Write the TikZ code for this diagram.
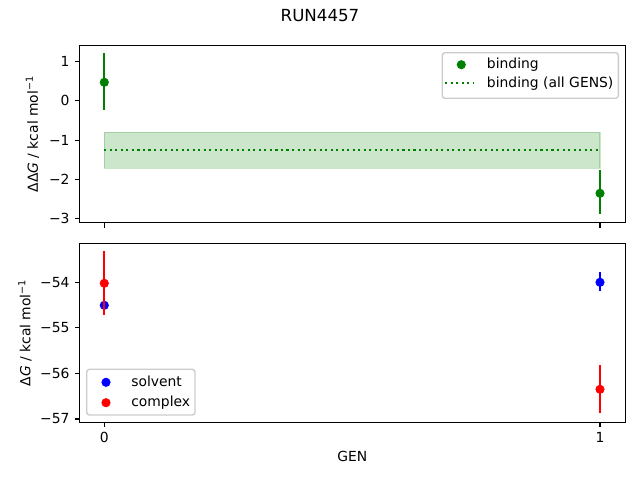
\documentclass[tikz,border=0pt]{standalone}
\usepackage{fontspec}
\setmainfont{DejaVu Sans}
\definecolor{mgreen}{RGB}{0,128,0}
\definecolor{mblue}{RGB}{0,0,255}
\definecolor{mred}{RGB}{255,0,0}
\definecolor{legedge}{RGB}{204,204,204}
\begin{document}
\begin{tikzpicture}[x=0.72pt,y=-0.72pt,
  font=\fontsize{10}{12}\selectfont,
  frame/.style={line width=0.8pt,draw=black},
  tickmark/.style={line width=0.8pt,draw=black},
  ylab/.style={anchor=east,inner sep=0pt},
  xlab/.style={anchor=north,inner sep=0pt},
  bar/.style={line width=1.5pt},
  dot/.style={circle,inner sep=0pt,minimum size=6.6pt,draw=none},
  legbox/.style={draw=legedge,line width=1pt,fill=white,fill opacity=0.8,rounded corners=2pt},
  legtext/.style={anchor=base west,inner sep=0pt},
]
\useasboundingbox (0,0) rectangle (640,480);

% ---------- title ----------
\node[inner sep=0pt,font=\fontsize{12}{14}\selectfont] (title) at (320,16) {RUN4457};

% ---------- top axes ----------
% band
\fill[mgreen,fill opacity=0.2] (104.3,132.3) rectangle (600,168.3);
\draw[mgreen,draw opacity=0.2,line width=1pt] (104.3,132.3) rectangle (600,168.3);
% dotted mean line
\coordinate (mA) at (104.3,149.7);
\coordinate (mB) at (600,149.7);
\draw[mgreen,line width=1.5pt,dash pattern=on 1.5pt off 2.475pt] (mA) -- (mB);
% error bars + points
\coordinate (g0t) at (104.3,53.3); \coordinate (g0b) at (104.3,110.3);
\draw[mgreen,bar] (g0t) -- (g0b);
\node[dot,fill=mgreen] (g0) at (104.3,82.3) {};
\coordinate (g1t) at (600,170); \coordinate (g1b) at (600,214.3);
\draw[mgreen,bar] (g1t) -- (g1b);
\node[dot,fill=mgreen] (g1) at (600,193.3) {};

% frame
\draw[frame] (79.5,45.3) rectangle (625.3,222.7);
% y ticks
\foreach \v/\y in {1/61.4,0/100.75,−1/140.1,−2/179.4,−3/218.7}{
  \draw[tickmark] (79.5,\y) -- ++(-4.86,0);
  \node[ylab] at (69.8,\y) {\v};
}
% x ticks
\foreach \x in {104.3,600}{
  \draw[tickmark] (\x,222.7) -- ++(0,4.86);
}
% y label
\node[rotate=90,inner sep=0pt] (ylabtop) at (32.5,134) {ΔΔ\textit{G} / kcal mol\textsuperscript{−1}};

% legend top
\draw[legbox] (442.3,52.7) rectangle (618.3,98.3);
\node[dot,fill=mgreen] (lg1) at (461.3,64.7) {};
\node[legtext] (lt1) at (486.7,68.6) {binding};
\coordinate (ld1) at (445,83.3); \coordinate (ld2) at (474.3,83.3);
\draw[mgreen,line width=1.5pt,dash pattern=on 1.5pt off 2.475pt] (ld1) -- (ld2);
\node[legtext] (lt2) at (486.7,87.2) {binding (all GENS)};

% ---------- bottom axes ----------
% solvent (blue)
\coordinate (b0t) at (104.3,303.5); \coordinate (b0b) at (104.3,307.1);
\draw[mblue,bar] (b0t) -- (b0b);
\node[dot,fill=mblue] (b0) at (104.3,305.3) {};
\coordinate (b1t) at (600,272.3); \coordinate (b1b) at (600,290.7);
\draw[mblue,bar] (b1t) -- (b1b);
\node[dot,fill=mblue] (b1) at (600,282.3) {};
% complex (red)
\coordinate (r0t) at (104.3,251); \coordinate (r0b) at (104.3,314.5);
\draw[mred,bar] (r0t) -- (r0b);
\node[dot,fill=mred] (r0) at (104.3,283.3) {};
\coordinate (r1t) at (600,365); \coordinate (r1b) at (600,413.3);
\draw[mred,bar] (r1t) -- (r1b);
\node[dot,fill=mred] (r1) at (600,389.3) {};

% frame
\draw[frame] (79.5,243.3) rectangle (625.3,422.3);
% y ticks
\foreach \v/\y in {−54/282.3,−55/327.8,−56/373.4,−57/419}{
  \draw[tickmark] (79.5,\y) -- ++(-4.86,0);
  \node[ylab] at (69.8,\y) {\v};
}
% x ticks
\foreach \x/\l in {104.3/0,600/1}{
  \draw[tickmark] (\x,422.3) -- ++(0,4.86);
  \node[xlab] at (\x,432) {\l};
}
% labels
\node[rotate=90,inner sep=0pt] (ylabbot) at (25,332.8) {Δ\textit{G} / kcal mol\textsuperscript{−1}};
\node[inner sep=0pt] (xlabel) at (352.4,456) {GEN};

% legend bottom
\draw[legbox] (86.7,369.3) rectangle (195,415);
\node[dot,fill=mblue] (ls1) at (106,382.3) {};
\node[legtext] (lst1) at (131,386.2) {solvent};
\node[dot,fill=mred] (ls2) at (106,402.7) {};
\node[legtext] (lst2) at (131,406.6) {complex};
\end{tikzpicture}
\end{document}
